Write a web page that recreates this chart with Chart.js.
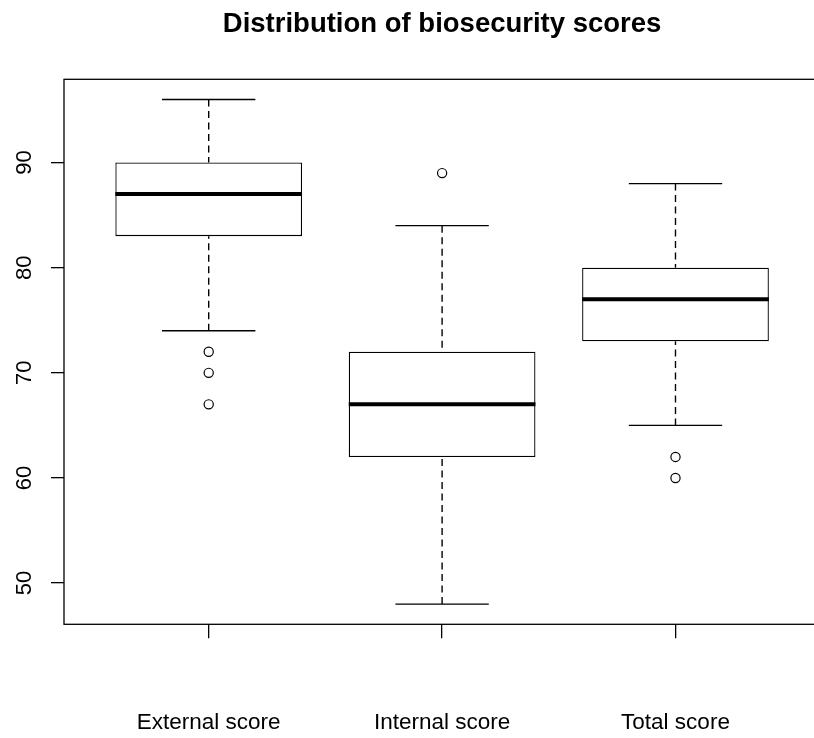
<!DOCTYPE html>
<html>
<head>
<meta charset="utf-8">
<script src="https://cdn.jsdelivr.net/npm/chart.js@4.4.1/dist/chart.umd.min.js"></script>
<style>
  html, body { margin: 0; padding: 0; background: #fff; overflow: hidden; }
  canvas { display: block; }
</style>
</head>
<body>
<canvas id="boxplot" width="826" height="738"></canvas>
<script>
// summary stats
const categories = ["External score", "Internal score", "Total score"];
const lowerWhisker = [74, 48, 65];
const q1 = [83, 62, 73];
const median = [87, 67, 77];
const q3 = [90, 72, 80];
const upperWhisker = [96, 84, 88];
const outliers = [[72, 70, 67], [89], [62, 60]];
const yTicks = [50, 60, 70, 80, 90];
const xTicks = [1, 2, 3];

const labelFont = "'Liberation Sans', Arial, sans-serif";
const ink = "#000";

// boxes as floating bars
const boxData = categories.map((c, i) => ({ x: i + 1, y: [q1[i], q3[i]] }));

// median segments across the box
const medianData = [];
categories.forEach((c, i) => {
  medianData.push({ x: i + 0.6, y: median[i] }, { x: i + 1.4, y: median[i] }, { x: i + 1, y: null });
});

// dashed whiskers, drawn from the end toward the box
const whiskerData = [];
categories.forEach((c, i) => {
  whiskerData.push({ x: i + 1, y: upperWhisker[i] }, { x: i + 1, y: q3[i] }, { x: i + 1, y: null });
  whiskerData.push({ x: i + 1, y: lowerWhisker[i] }, { x: i + 1, y: q1[i] }, { x: i + 1, y: null });
});

// staples
const capData = [];
categories.forEach((c, i) => {
  capData.push({ x: i + 0.8, y: upperWhisker[i] }, { x: i + 1.2, y: upperWhisker[i] }, { x: i + 1, y: null });
  capData.push({ x: i + 0.8, y: lowerWhisker[i] }, { x: i + 1.2, y: lowerWhisker[i] }, { x: i + 1, y: null });
});

const outlierData = [];
outliers.forEach((vals, i) => {
  for (const v of vals) outlierData.push({ x: i + 1, y: v });
});

const frame = {
  id: "frame",
  afterDraw(chart) {
    const { ctx, chartArea } = chart;
    ctx.save();
    ctx.strokeStyle = ink;
    ctx.lineWidth = 1.3;
    ctx.strokeRect(chartArea.left, chartArea.top, chartArea.right - chartArea.left, chartArea.bottom - chartArea.top);
    ctx.restore();
  },
};

new Chart(document.getElementById("boxplot"), {
  type: "bar",
  data: {
    datasets: [
      {
        type: "line",
        data: medianData,
        borderColor: ink,
        borderWidth: 4,
        pointRadius: 0,
        spanGaps: false,
        order: 0,
      },
      {
        type: "scatter",
        data: outlierData,
        pointStyle: "circle",
        pointRadius: 4.6,
        borderWidth: 1.2,
        borderColor: ink,
        backgroundColor: "rgba(0,0,0,0)",
        order: 1,
      },
      {
        type: "line",
        data: capData,
        borderColor: ink,
        borderWidth: 1.3,
        pointRadius: 0,
        spanGaps: false,
        order: 1,
      },
      {
        type: "line",
        data: whiskerData,
        borderColor: ink,
        borderWidth: 1.4,
        borderDash: [7, 4.5],
        pointRadius: 0,
        spanGaps: false,
        order: 2,
      },
      {
        type: "bar",
        data: boxData,
        backgroundColor: "#fff",
        borderColor: ink,
        borderWidth: 1.3,
        borderSkipped: false,
        categoryPercentage: 0.8,
        barPercentage: 1,
        order: 3,
      },
    ],
  },
  options: {
    responsive: false,
    animation: false,
    events: [],
    layout: { padding: { left: 0, right: 1.6, top: 0, bottom: 0 } },
    plugins: {
      legend: { display: false },
      tooltip: { enabled: false },
      title: {
        display: true,
        text: "Distribution of biosecurity scores",
        fullSize: false,
        color: ink,
        font: { family: "'Liberation Sans', Arial, sans-serif", size: 27.5, weight: "bold" },
        padding: { top: 7.5, bottom: 38.8 },
      },
    },
    scales: {
      x: {
        type: "linear",
        min: 0.38,
        max: 3.62,
        offset: false,
        afterBuildTicks: (scale) => {
          scale.ticks = xTicks.map((v) => ({ value: v }));
        },
        afterFit: (scale) => {
          scale.height = 113.7;
        },
        ticks: {
          color: ink,
          padding: 71,
          maxRotation: 0,
          autoSkip: false,
          font: { family: labelFont, size: 22.5 },
          callback: (v) => categories[v - 1],
        },
        grid: { offset: false, drawOnChartArea: false, drawTicks: true, tickLength: 14, color: ink, lineWidth: 1.3 },
        border: { display: false },
      },
      y: {
        min: 46.08,
        max: 97.92,
        afterBuildTicks: (scale) => {
          scale.ticks = yTicks.map((v) => ({ value: v }));
        },
        afterFit: (scale) => {
          scale.width = 64;
        },
        ticks: {
          color: ink,
          padding: 13.5,
          minRotation: 90,
          maxRotation: 90,
          crossAlign: "center",
          font: { family: labelFont, size: 22 },
        },
        grid: { drawOnChartArea: false, drawTicks: true, tickLength: 13, color: ink, lineWidth: 1.3 },
        border: { display: false },
      },
    },
  },
  plugins: [frame],
});
</script>
</body>
</html>
